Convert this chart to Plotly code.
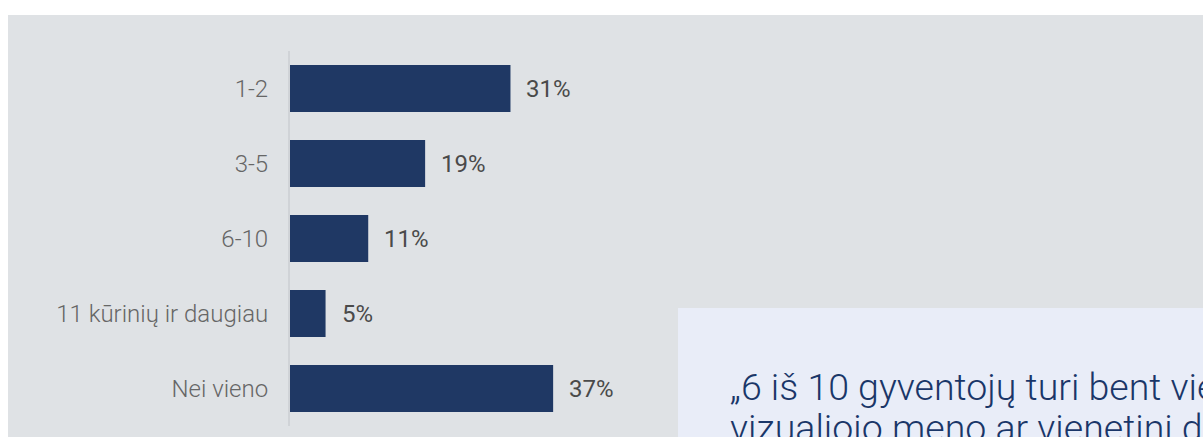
import plotly.graph_objects as go

categories = ["1-2", "3-5", "6-10", "11 kūrinių ir daugiau", "Nei vieno"]
values = [31, 19, 11, 5, 37]
value_labels = ["31%", "19%", "11%", "5%", "37%"]
quote_lines = ["„6 iš 10 gyventojų turi bent vieną", "vizualiojo meno ar vienetinį dizaino kūrinį“"]

W, H = 1203, 437
L, R, T, B = 290, 0, 51, 11
PW, PH = W - L - R, H - T - B

def px_x(px):
    return (px - L) / PW

def px_y(py):
    return (H - B - py) / PH

BAR = "#1f3864"
PANEL = "#dfe2e5"
BOX = "#e9edf8"
QUOTE_SIZE = 37.5

fig = go.Figure()
fig.add_trace(go.Bar(
    x=values, y=categories, orientation="h",
    marker=dict(color=BAR, line=dict(width=0)),
    hoverinfo="skip", showlegend=False,
))

for v, lab, c in zip(values, value_labels, categories):
    fig.add_annotation(
        x=v, y=c, xref="x", yref="y", text=lab, showarrow=False,
        xanchor="left", yanchor="middle", xshift=14,
        font=dict(family="Roboto", size=24, color="#4a4a4a", weight=400),
    )

fig.add_shape(type="rect", xref="paper", yref="paper", layer="below",
              x0=px_x(8), x1=1.05, y0=px_y(H + 20), y1=px_y(15),
              fillcolor=PANEL, line=dict(width=0))
fig.add_shape(type="rect", xref="paper", yref="paper", layer="above",
              x0=px_x(678), x1=1.05, y0=px_y(H + 20), y1=px_y(308),
              fillcolor=BOX, line=dict(width=0))

for line, baseline in zip(quote_lines, [398.5, 439.5]):
    top = baseline - 1 - 0.928 * QUOTE_SIZE
    fig.add_annotation(
        x=px_x(728), y=px_y(top), xref="paper", yref="paper",
        text=line, showarrow=False, xanchor="left", yanchor="top",
        font=dict(family="Roboto", size=QUOTE_SIZE, color="#1a3668", weight=300),
    )

fig.update_layout(
    width=W, height=H,
    margin=dict(l=L, r=R, t=T, b=B, pad=0),
    paper_bgcolor="white",
    plot_bgcolor="rgba(0,0,0,0)",
    bargap=0.373,
    xaxis=dict(range=[0, PW / 7.112], visible=False, fixedrange=True),
    yaxis=dict(
        autorange="reversed", showgrid=False, zeroline=False,
        showline=True, linewidth=2, linecolor="#d0d3d7",
        ticks="", ticklabelstandoff=15,
        tickfont=dict(family="Roboto", size=24, color="#666666", weight=300),
        fixedrange=True,
    ),
)

fig.write_html(
    "out.html",
    config={"displayModeBar": False},
    post_script="document.body.style.margin='0';document.body.style.overflow='hidden';",
)
